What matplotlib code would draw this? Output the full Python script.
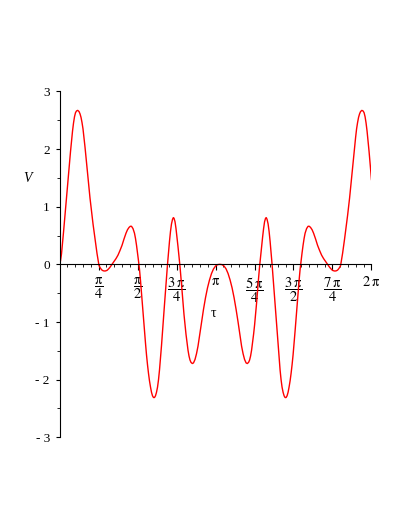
import numpy as np
import matplotlib.pyplot as plt

plt.rcParams['font.family'] = ['Liberation Serif', 'DejaVu Serif']
plt.rcParams['mathtext.fontset'] = 'stix'

# values (tau in radians, V)
tau = [0.000, 0.020, 0.040, 0.060, 0.081, 0.101, 0.121, 0.141, 0.161, 0.181,
       0.201, 0.222, 0.242, 0.262, 0.282, 0.302, 0.322, 0.342, 0.367, 0.393,
       0.413, 0.433, 0.453, 0.473, 0.493, 0.514, 0.534, 0.554, 0.574, 0.594,
       0.614, 0.634, 0.654, 0.675, 0.695, 0.715, 0.735, 0.755, 0.775, 0.795,
       0.816, 0.836, 0.856, 0.876, 0.896, 0.922, 0.957, 0.987, 1.017, 1.057,
       1.098, 1.138, 1.178, 1.218, 1.259, 1.299, 1.339, 1.369, 1.400, 1.426,
       1.450, 1.480, 1.510, 1.530, 1.551, 1.571, 1.591, 1.611, 1.631, 1.651,
       1.671, 1.692, 1.712, 1.732, 1.752, 1.772, 1.792, 1.812, 1.833, 1.853,
       1.873, 1.893, 1.913, 1.933, 1.953, 1.974, 1.994, 2.014, 2.034, 2.054,
       2.074, 2.094, 2.114, 2.135, 2.155, 2.175, 2.195, 2.215, 2.235, 2.255,
       2.276, 2.292, 2.306, 2.326, 2.346, 2.366, 2.386, 2.406, 2.427, 2.447,
       2.467, 2.487, 2.507, 2.527, 2.547, 2.568, 2.588, 2.608, 2.628, 2.648,
       2.674, 2.698, 2.729, 2.759, 2.789, 2.823, 2.860, 2.900, 2.940, 2.980,
       3.021, 3.061, 3.101, 3.142, 3.182, 3.228,
       3.274, 3.314, 3.355, 3.395, 3.435, 3.476, 3.516, 3.556, 3.596, 3.633,
       3.667, 3.697, 3.727, 3.758, 3.782, 3.808, 3.828, 3.848, 3.868, 3.888,
       3.909, 3.929, 3.949, 3.969, 3.989, 4.009, 4.029, 4.050, 4.070, 4.090,
       4.110, 4.130, 4.150, 4.164, 4.180, 4.201, 4.221, 4.241, 4.261, 4.281,
       4.301, 4.321, 4.342, 4.362, 4.382, 4.402, 4.422, 4.442, 4.462, 4.482,
       4.503, 4.523, 4.543, 4.563, 4.583, 4.603, 4.623, 4.644, 4.664, 4.684,
       4.704, 4.724, 4.744, 4.764, 4.785, 4.805, 4.825, 4.845, 4.865, 4.885,
       4.905, 4.926, 4.946, 4.976, 5.006, 5.030, 5.056, 5.087, 5.117, 5.157,
       5.197, 5.238, 5.278, 5.318, 5.358, 5.399, 5.439, 5.469, 5.499, 5.534,
       5.560, 5.580, 5.600, 5.620, 5.640, 5.661, 5.681, 5.701, 5.721, 5.741,
       5.761, 5.781, 5.802, 5.822, 5.842, 5.862, 5.882, 5.902, 5.922, 5.942,
       5.963, 5.983, 6.003, 6.023, 6.043, 6.063, 6.089, 6.114, 6.134, 6.154,
       6.174, 6.194, 6.214, 6.234, 6.255, 6.275, 6.283]
V = [0.00, 0.06, 0.18, 0.36, 0.56, 0.76, 0.95, 1.15, 1.35, 1.55,
     1.75, 1.96, 2.14, 2.31, 2.45, 2.56, 2.63, 2.66, 2.67, 2.65,
     2.61, 2.55, 2.46, 2.35, 2.20, 2.03, 1.85, 1.67, 1.49, 1.32,
     1.15, 1.00, 0.85, 0.70, 0.57, 0.44, 0.31, 0.19, 0.08, -0.02,
     -0.055, -0.08, -0.10, -0.11, -0.115, -0.115, -0.105, -0.08, -0.05, 0.00,
     0.05, 0.10, 0.16, 0.24, 0.33, 0.44, 0.54, 0.60, 0.64, 0.66,
     0.66, 0.62, 0.54, 0.45, 0.33, 0.20, 0.06, -0.09, -0.28, -0.50,
     -0.72, -0.94, -1.16, -1.37, -1.57, -1.74, -1.89, -2.02, -2.13, -2.22,
     -2.28, -2.31, -2.31, -2.28, -2.22, -2.13, -2.00, -1.83, -1.63, -1.41,
     -1.17, -0.93, -0.70, -0.47, -0.23, 0.00, 0.20, 0.40, 0.57, 0.70,
     0.78, 0.81, 0.80, 0.74, 0.62, 0.47, 0.31, 0.14, -0.04, -0.24,
     -0.45, -0.67, -0.87, -1.05, -1.21, -1.36, -1.49, -1.59, -1.66, -1.70,
     -1.72, -1.71, -1.65, -1.55, -1.42, -1.22, -1.00, -0.78, -0.58, -0.41,
     -0.27, -0.16, -0.08, -0.03, -0.005, 0.00,
     -0.005, -0.03, -0.08, -0.16, -0.27, -0.41, -0.58, -0.78, -1.00, -1.22,
     -1.42, -1.55, -1.65, -1.71, -1.72, -1.70, -1.66, -1.59, -1.49, -1.36,
     -1.21, -1.05, -0.87, -0.67, -0.45, -0.24, -0.04, 0.14, 0.31, 0.47,
     0.62, 0.74, 0.80, 0.81, 0.78, 0.70, 0.57, 0.40, 0.20, 0.00,
     -0.23, -0.47, -0.70, -0.93, -1.17, -1.41, -1.63, -1.83, -2.00, -2.13,
     -2.22, -2.28, -2.31, -2.31, -2.28, -2.22, -2.13, -2.02, -1.89, -1.74,
     -1.57, -1.37, -1.16, -0.94, -0.72, -0.50, -0.28, -0.09, 0.06, 0.20,
     0.33, 0.45, 0.54, 0.62, 0.66, 0.66, 0.64, 0.60, 0.54, 0.44,
     0.33, 0.24, 0.16, 0.10, 0.05, 0.00, -0.05, -0.08, -0.105, -0.115,
     -0.115, -0.11, -0.10, -0.08, -0.055, -0.02, 0.08, 0.19, 0.31, 0.44,
     0.57, 0.70, 0.85, 1.00, 1.15, 1.32, 1.49, 1.67, 1.85, 2.03,
     2.20, 2.35, 2.46, 2.55, 2.61, 2.65, 2.67, 2.66, 2.63, 2.56,
     2.45, 2.31, 2.14, 1.96, 1.75, 1.55, 1.47]

xtick_labels = [r'$\dfrac{\mathrm{\pi}}{4}$', r'$\dfrac{\mathrm{\pi}}{2}$',
                r'$\dfrac{3\,\mathrm{\pi}}{4}$', r'$\mathrm{\pi}$',
                r'$\dfrac{5\,\mathrm{\pi}}{4}$', r'$\dfrac{3\,\mathrm{\pi}}{2}$',
                r'$\dfrac{7\,\mathrm{\pi}}{4}$', r'$2\,\mathrm{\pi}$']
yticks = [-3, -2, -1, 0, 1, 2, 3]
ytick_labels = ['- 3', '- 2', '- 1', '0', '1', '2', '3']

fig = plt.figure(figsize=(4.09, 5.29), dpi=100)
ax = fig.add_axes([0.1455, 0.1733, 0.7628, 0.654])

ax.plot(tau, V, color='red', lw=1.0)

ax.set_xlim(0, 2 * np.pi)
ax.set_ylim(-3, 3)

ax.spines['left'].set_position(('data', 0))
ax.spines['bottom'].set_position(('data', 0))
ax.spines['top'].set_visible(False)
ax.spines['right'].set_visible(False)

ax.set_xticks([k * np.pi / 4 for k in range(1, 9)])
ax.set_xticklabels(xtick_labels)
ax.set_xticks([k * np.pi / 20 for k in range(41)], minor=True)
ax.set_yticks(yticks)
ax.set_yticklabels(ytick_labels)
ax.set_yticks(np.arange(-3, 3.01, 0.5), minor=True)

ax.tick_params(axis='x', which='major', direction='out', length=4, pad=4, labelsize=10.5)
ax.tick_params(axis='x', which='minor', direction='out', length=2.5)
ax.tick_params(axis='y', which='major', direction='out', length=3, pad=4, labelsize=9.5)
ax.tick_params(axis='y', which='minor', direction='out', length=2)

ax.text(-0.104, 0.749, 'V', transform=ax.transAxes, fontsize=10,
        style='italic', ha='center', va='center')
ax.text(0.495, 0.358, 'τ', transform=ax.transAxes, fontsize=10,
        ha='center', va='center')

fig.savefig('out.png', dpi=100)
